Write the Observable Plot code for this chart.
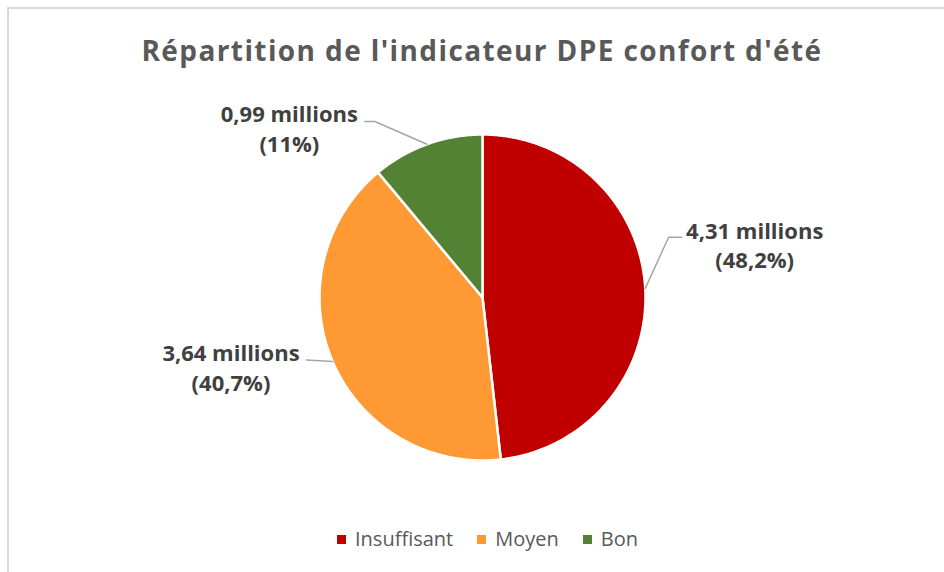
<!DOCTYPE html>
<html><head><meta charset="utf-8">
<script src="https://cdn.jsdelivr.net/npm/d3@7"></script>
<script src="https://cdn.jsdelivr.net/npm/@observablehq/plot@0.6"></script>
<style>
body{margin:0;background:#fff;}
#wrap{position:relative;width:944px;height:572px;overflow:hidden;font-family:"Open Sans",sans-serif;background:#fff;}
#frame{position:absolute;left:7px;top:7px;width:1000px;height:1000px;border-top:2px solid #d9d9d9;border-left:2px solid #d9d9d9;box-sizing:border-box;}
#title{position:absolute;left:0;width:964px;top:36px;text-align:center;font-weight:700;font-size:28px;line-height:28px;letter-spacing:1.4px;color:#595959;white-space:nowrap;}
#chart{position:absolute;left:0;top:90px;}
#legend{position:absolute;left:0;width:975px;top:529px;display:flex;justify-content:center;align-items:center;font-size:20px;line-height:20px;color:#595959;}
#legend .item{display:flex;align-items:center;margin:0 12px;}
#legend .sw{width:9px;height:9px;margin-right:9px;}
</style>
</head><body>
<div id="wrap">
  <div id="frame"></div>
  <div id="title"></div>
  <div id="chart"></div>
  <div id="legend"></div>
</div>
<script>
const titleText = "Répartition de l'indicateur DPE confort d'été";
const categories = ["Insuffisant", "Moyen", "Bon"];
const values = [4.31, 3.64, 0.99];          // millions
const percents = [48.2, 40.7, 11];          // %
const colors = ["#C00000", "#FF9933", "#548235"];

// label layout (unit-circle coordinates), separate from the data
const labelLayout = [
  {elbow: [1.142, 0.370], end: [1.222, 0.370], tx: 1.670, ty: [0.358, 0.179]},
  {elbow: null, end: [-1.080, -0.383], tx: -1.543, ty: [-0.389, -0.574]},
  {elbow: [-0.660, 1.080], end: [-0.722, 1.080], tx: -1.185, ty: [1.080, 0.895]}
];

document.getElementById("title").textContent = titleText;

const fmt = v => String(v).replace(".", ",");
const arcs = d3.pie().sort(null).value(d => d)(values);

// slice polygons
const slicePts = [];
arcs.forEach((a, i) => {
  const cat = categories[i];
  slicePts.push({cat, x: 0, y: 0});
  const n = Math.max(2, Math.ceil((a.endAngle - a.startAngle) / (Math.PI / 360)));
  for (let k = 0; k <= n; k++) {
    const t = a.startAngle + (a.endAngle - a.startAngle) * k / n;
    slicePts.push({cat, x: Math.sin(t), y: Math.cos(t)});
  }
  slicePts.push({cat, x: 0, y: 0});
});

// leader lines
const leaderPts = [];
arcs.forEach((a, i) => {
  const m = (a.startAngle + a.endAngle) / 2;
  const L = labelLayout[i];
  leaderPts.push({cat: categories[i], x: Math.sin(m), y: Math.cos(m)});
  if (L.elbow) leaderPts.push({cat: categories[i], x: L.elbow[0], y: L.elbow[1]});
  leaderPts.push({cat: categories[i], x: L.end[0], y: L.end[1]});
});

// labels
const labelRows = [];
categories.forEach((c, i) => {
  const L = labelLayout[i];
  labelRows.push({x: L.tx, y: L.ty[0], text: `${fmt(values[i])} millions`});
  labelRows.push({x: L.tx, y: L.ty[1], text: `(${fmt(percents[i])}%)`});
});

const R = 163, cx = 482, cy = 207;
const chart = Plot.plot({
  width: 944,
  height: 425,
  margin: 0,
  style: {background: "transparent", overflow: "visible"},
  x: {domain: [-1, 1], range: [cx - R, cx + R], axis: null},
  y: {domain: [-1, 1], range: [cy + R, cy - R], axis: null},
  color: {domain: categories, range: colors},
  marks: [
    Plot.line(slicePts, {x: "x", y: "y", z: "cat", fill: "cat", stroke: "white", strokeWidth: 2.5, strokeLinejoin: "round"}),
    Plot.line(leaderPts, {x: "x", y: "y", z: "cat", stroke: "#a6a6a6", strokeWidth: 1.5}),
    Plot.text(labelRows, {x: "x", y: "y", text: "text", fontSize: 22, fontWeight: 700, fill: "#404040",
      fontFamily: "Open Sans", textAnchor: "middle", dy: -7})
  ]
});
document.getElementById("chart").appendChild(chart);

const legend = document.getElementById("legend");
categories.forEach((c, i) => {
  const it = document.createElement("div");
  it.className = "item";
  const sw = document.createElement("div");
  sw.className = "sw";
  sw.style.background = colors[i];
  const tx = document.createElement("span");
  tx.textContent = c;
  it.appendChild(sw); it.appendChild(tx);
  legend.appendChild(it);
});
</script>
</body></html>
